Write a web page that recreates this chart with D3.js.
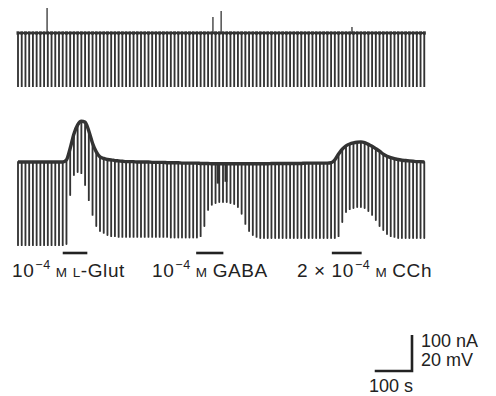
<!DOCTYPE html>
<html><head><meta charset="utf-8">
<script src="https://cdn.jsdelivr.net/npm/d3@7"></script>
<style>html,body{margin:0;padding:0;background:#fff}svg{display:block}</style>
</head><body>
<script>
// ---- data ----
const sweepStart = 0, sweepInterval = 10, sweepCount = 110; // s
// top trace (voltage, mV)
const voltageStep = -30;
const voltageSpikeTimes = [78, 523, 545, 896];
const voltageSpikeValues = [13.9, 8.9, 12.2, 3.3];
// bottom trace (current, nA): holding current at each sweep
const holdingCurrent = [
 0,0,0,0,0,0,0,0,0,0, 0,0,0,6,38,78,103,113,111,86,
 52,28,14,10,7,6,4,3,2,1, 1,1,0,0,0,0,-1,-1,-1,-1,
 -2,-2,-2,-2,-3,-3,-3,-3,-3,-4, -4,-4,-5,-5,-5,-5,-5,-5,-5,-5,
 -5,-5,-5,-5,-5,-5,-5,-5,-4,-4, -4,-4,-4,-4,-4,-4,-4,-3,-3,-3,
 -3,-3,-3,-3,-2,6,22,36,45,50, 53,55,56,54,49,44,37,30,22,16,
 12,9,7,5,4,3,2,1,1,0];
// current at peak of each voltage pulse (nA)
const pulseCurrent = [
 -231,-231,-231,-231,-231,-231,-231,-231,-231,-231, -231,-231,-231,-228,-92,-36,-28,-31,-64,-106,
 -147,-178,-192,-197,-203,-206,-206,-208,-208,-208, -208,-208,-208,-208,-208,-208,-208,-208,-208,-208,
 -208,-210,-210,-210,-210,-210,-210,-210,-210,-206, -178,-133,-119,-114,-111,-111,-111,-114,-117,-125,
 -144,-172,-192,-203,-208,-211,-211,-211,-211,-211, -211,-211,-211,-211,-211,-211,-211,-211,-211,-211,
 -211,-211,-211,-211,-211,-211,-206,-167,-139,-131, -128,-125,-125,-128,-136,-147,-161,-178,-189,-200,
 -206,-208,-211,-211,-211,-211,-211,-211,-211,-211];
const artifactTimes = [537, 558];
const artifactDepth = [-60, -55];
// drug applications
const drugStart = [120, 478, 842];
const drugEnd = [186, 551, 922];
const drugConc = ["10", "10", "2 \u00d7 10"];
const drugExp = ["\u22124", "\u22124", "\u22124"];
const drugUnit = ["M", "M", "M"];
const drugName = ["L-Glut", "GABA", "CCh"];
// scale bars
const scaleTime = 100, scaleCurrent = 100, scaleVoltage = 20;
const scaleLabels = ["100 nA", "20 mV", "100 s"];

// ---- drawing ----
const W = 496, H = 396, ink = "#333";
const svg = d3.select("body").append("svg").attr("width", W).attr("height", H);
svg.append("rect").attr("width", W).attr("height", H).attr("fill", "#fff");

const times = d3.range(sweepCount).map(i => sweepStart + i * sweepInterval);
const x = d3.scaleLinear().domain([0, 1100]).range([18, 428]);
const pxPerUnit = 36 / 100;
const yV = d3.scaleLinear().domain([0, 20]).range([33, 33 - 20 * 1.8]);
const yI = d3.scaleLinear().domain([0, 100]).range([162, 162 - 100 * pxPerUnit]);

// top trace
const gTop = svg.append("g");
gTop.selectAll("line.p").data(times).join("line").attr("class", "p")
  .attr("x1", d => x(d)).attr("x2", d => x(d))
  .attr("y1", yV(0)).attr("y2", yV(voltageStep))
  .attr("stroke", ink).attr("stroke-width", 1.85);
gTop.selectAll("line.tk").data(times).join("line").attr("class", "tk")
  .attr("x1", d => x(d) - 1.5).attr("x2", d => x(d) + 1.5)
  .attr("y1", yV(0)).attr("y2", yV(0))
  .attr("stroke", ink).attr("stroke-width", 3.4);
gTop.append("line").attr("x1", x(0)).attr("x2", x(times[times.length - 1]) + 1)
  .attr("y1", yV(0)).attr("y2", yV(0)).attr("stroke", ink).attr("stroke-width", 2);
gTop.selectAll("line.s").data(voltageSpikeTimes).join("line").attr("class", "s")
  .attr("x1", d => x(d)).attr("x2", d => x(d))
  .attr("y1", yV(0)).attr("y2", (d, i) => yV(voltageSpikeValues[i]))
  .attr("stroke", ink).attr("stroke-width", 1.3);

// bottom trace
const gBot = svg.append("g");
gBot.selectAll("line.p").data(times).join("line").attr("class", "p")
  .attr("x1", d => x(d)).attr("x2", d => x(d))
  .attr("y1", (d, i) => yI(holdingCurrent[i])).attr("y2", (d, i) => yI(pulseCurrent[i]))
  .attr("stroke", ink).attr("stroke-width", 1.85).attr("stroke-linecap", "round");
gBot.selectAll("line.a").data(artifactTimes).join("line").attr("class", "a")
  .attr("x1", d => x(d)).attr("x2", d => x(d))
  .attr("y1", yI(-4)).attr("y2", (d, i) => yI(artifactDepth[i]))
  .attr("stroke", ink).attr("stroke-width", 3);
const env = d3.line().x((d, i) => x(times[i])).y(d => yI(d)).curve(d3.curveMonotoneX);
gBot.append("path").attr("d", env(holdingCurrent)).attr("fill", "none")
  .attr("stroke", ink).attr("stroke-width", 3.4);

// drug bars and labels
const labelX = [12, 152, 297];
const font = "Liberation Sans, Arial, sans-serif";
svg.selectAll("line.drug").data(drugStart).join("line").attr("class", "drug")
  .attr("x1", d => x(d)).attr("x2", (d, i) => x(drugEnd[i]))
  .attr("y1", 253).attr("y2", 253).attr("stroke", "#222").attr("stroke-width", 2.6);
const lab = svg.selectAll("text.drug").data(drugName).join("text").attr("class", "drug")
  .attr("x", (d, i) => labelX[i]).attr("y", 277)
  .attr("font-family", font).attr("font-size", 19).attr("letter-spacing", 0.6)
  .attr("fill", "#222");
lab.append("tspan").text((d, i) => drugConc[i]);
lab.append("tspan").attr("font-size", 12.5).attr("dy", -8).attr("dx", 1).text((d, i) => drugExp[i]);
lab.append("tspan").attr("font-size", 13.5).attr("dy", 8).attr("dx", 5).text((d, i) => drugUnit[i]);
lab.append("tspan").attr("font-size", d => d === "L-Glut" ? 13.5 : 19).attr("dx", 5)
  .text(d => d === "L-Glut" ? "L" : d);
lab.filter(d => d === "L-Glut").append("tspan").text("-Glut");

// scale bar
const cx = 412, cy = 371;
const hLen = x(scaleTime) - x(0), vLen = yI(0) - yI(scaleCurrent);
svg.append("path")
  .attr("d", `M${cx - hLen},${cy}H${cx}V${cy - vLen}`)
  .attr("fill", "none").attr("stroke", "#222").attr("stroke-width", 2.6);
[[scaleLabels[0], 421, 347], [scaleLabels[1], 421, 366], [scaleLabels[2], 369, 392]].forEach(([t, tx, ty]) => {
  svg.append("text").attr("x", tx).attr("y", ty).text(t)
    .attr("font-family", font).attr("font-size", 18).attr("fill", "#222");
});
</script>
</body></html>
